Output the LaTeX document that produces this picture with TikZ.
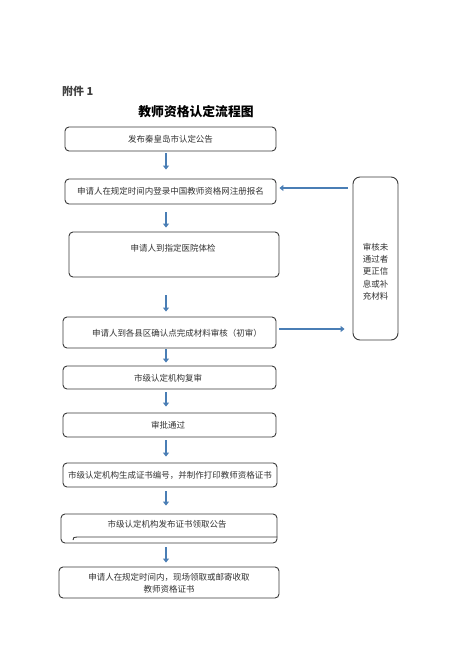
\documentclass[tikz,border=0pt]{standalone}
\usepackage{fontspec}
\setmainfont{Noto Sans CJK SC}
\newfontfamily\cjk{Noto Sans CJK SC}
\usetikzlibrary{arrows.meta}
\definecolor{arrblue}{HTML}{4A7EB5}
\definecolor{boxline}{HTML}{3A3A3A}
\definecolor{txt}{HTML}{333333}
\tikzset{
  stepbox/.style={draw=boxline, line width=0.9pt, rounded corners=4pt, inner sep=0pt},
  lbl/.style={font=\cjk\fontsize{8.5}{12.3}\selectfont, text=txt, inner sep=0pt, align=center},
  arr/.style={draw=arrblue, line width=2.8pt, -{Triangle[width=6pt,length=4pt]}}
}
\begin{document}
\begin{tikzpicture}[x=1pt,y=-1pt]
\useasboundingbox (0,0) rectangle (474,670);
\fill[white] (0,0) rectangle (474,670);
\node[font=\cjk\bfseries\fontsize{11}{13}\selectfont, text=black!75, anchor=west, inner sep=0pt] (att) at (62,91) {附件 1};
\node[font=\cjk\bfseries\fontsize{12.8}{15}\selectfont, inner sep=0pt] (title) at (196,112) {教师资格认定流程图};
% boxes
\node[stepbox, minimum width=211pt, minimum height=24pt] (b1) at (170.5,139) {};
\node[lbl] (t1) at (b1) {发布秦皇岛市认定公告};
\node[stepbox, minimum width=211pt, minimum height=25pt] (b2) at (170.5,191.5) {};
\node[lbl] (t2) at (b2) {申请人在规定时间内登录中国教师资格网注册报名};
\node[stepbox, minimum width=210pt, minimum height=45pt] (b3) at (174,254.5) {};
\node[lbl] (t3) at (173,248) {申请人到指定医院体检};
\node[stepbox, minimum width=213pt, minimum height=31pt] (b4) at (169.5,332.5) {};
\node[lbl] (t4) at (177,333) {申请人到各县区确认点完成材料审核（初审）};
\node[stepbox, minimum width=213pt, minimum height=23pt] (b5) at (169.5,377.5) {};
\node[lbl] (t5) at (168,378) {市级认定机构复审};
\node[stepbox, minimum width=213pt, minimum height=24pt] (b6) at (169.5,425) {};
\node[lbl] (t6) at (168,425) {审批通过};
\node[stepbox, minimum width=214pt, minimum height=24pt] (b7) at (170,475) {};
\node[lbl] (t7) at (170,475) {市级认定机构生成证书编号，并制作打印教师资格证书};
\node[stepbox, minimum width=216pt, minimum height=29pt] (b8) at (169,528.5) {};
\node[lbl] (t8) at (167,524) {市级认定机构发布证书领取公告};
\draw[boxline, line width=0.9pt] (73,540) .. controls (73,537.5) and (74,537) .. (77,537) -- (b8.east |- 0,537);
\node[stepbox, minimum width=220pt, minimum height=31pt] (b9) at (169,582.5) {};
\node[lbl] (t9) at (169,583.5) {申请人在规定时间内，现场领取或邮寄收取\\教师资格证书};
\node[stepbox, rounded corners=7pt, minimum width=45pt, minimum height=163pt] (side) at (375.5,258.5) {};
\node[lbl] (ts) at (375.5,271.5) {审核未\\通过者\\更正信\\息或补\\充材料};
% arrows
\coordinate (ax) at (166,0);
\draw[arr, shorten <=2pt, shorten >=9pt] (b1.south -| ax) -- (b2.north -| ax);
\draw[arr, shorten <=8pt, shorten >=4pt] (b2.south -| ax) -- (b3.north -| ax);
\draw[arr, shorten <=18pt, shorten >=5pt] (b3.south -| ax) -- (b4.north -| ax);
\draw[arr, shorten <=1pt, shorten >=3pt] (b4.south -| ax) -- (b5.north -| ax);
\draw[arr, shorten <=3pt, shorten >=6pt] (b5.south -| ax) -- (b6.north -| ax);
\draw[arr, shorten <=3pt, shorten >=6pt] (b6.south -| ax) -- (b7.north -| ax);
\draw[arr, shorten <=4pt, shorten >=8pt] (b7.south -| ax) -- (b8.north -| ax);
\draw[arr, shorten <=4pt, shorten >=4pt] (b8.south -| ax) -- (b9.north -| ax);
\coordinate (ay1) at (0,188);
\coordinate (ay2) at (0,329);
\draw[arr, shorten <=5pt, shorten >=3pt] (side.west |- ay1) -- (b2.east |- ay1);
\draw[arr, shorten <=3pt, shorten >=8pt] (b4.east |- ay2) -- (side.west |- ay2);
\end{tikzpicture}
\end{document}
